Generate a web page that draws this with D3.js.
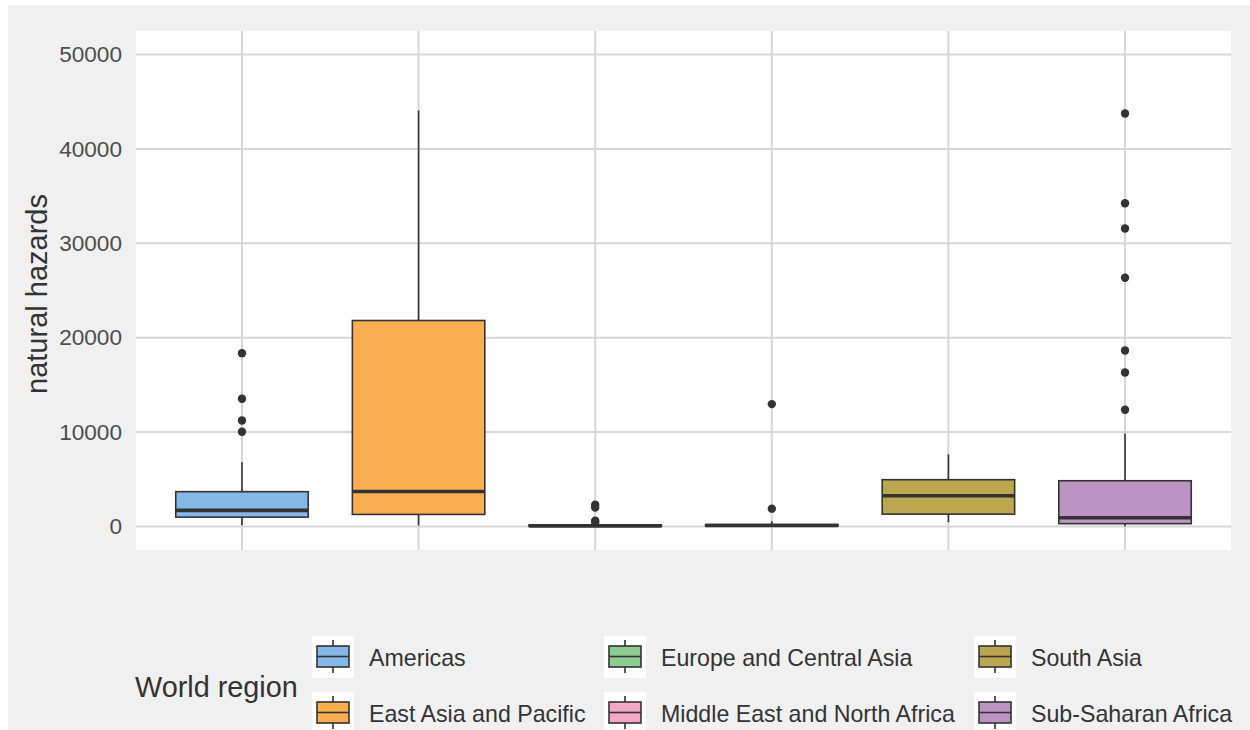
<!DOCTYPE html>
<html><head><meta charset="utf-8">
<script src="https://cdn.jsdelivr.net/npm/d3@7"></script>
<style>body{margin:0;background:#fff;}svg{display:block;font-family:"Liberation Sans",Arial,sans-serif;}</style>
</head><body><svg id="c" width="1250" height="730"></svg>
<script>
const regions = ["Americas","East Asia and Pacific","Europe and Central Asia","Middle East and North Africa","South Asia","Sub-Saharan Africa"];
const colors = ["#85b8e6","#f9ae52","#8dcb90","#f5a8c6","#bda650","#bb94c4"];
const whiskerLow = [130, 100, 0, 10, 450, 20];
const q1 = [985, 1270, 20, 30, 1300, 290];
const median = [1700, 3700, 60, 100, 3250, 920];
const q3 = [3680, 21820, 150, 200, 4950, 4840];
const whiskerHigh = [6810, 44070, 350, 550, 7630, 9850];
const outliers = [
  [18360, 13530, 11230, 10030],
  [],
  [2300, 2000, 600, 450],
  [12960, 1880],
  [],
  [43750, 34250, 31570, 26350, 18640, 16310, 12360]
];
const yTicks = [0, 10000, 20000, 30000, 40000, 50000];

const svg = d3.select("#c");
svg.append("rect").attr("x",8).attr("y",5).attr("width",1242).attr("height",725).attr("fill","#f0f0f0");

const P = {l:136, r:1231, t:31, b:550};
svg.append("rect").attr("x",P.l).attr("y",P.t).attr("width",P.r-P.l).attr("height",P.b-P.t).attr("fill","#fff");

const x = d3.scalePoint().domain(regions).range([P.l, P.r]).padding(0.6);
const step = x.step();
const bw = step*0.75;
const y = d3.scaleLinear().domain([-2500, 52500]).range([P.b, P.t]);

const grid = svg.append("g");
grid.selectAll("line.h").data(yTicks).join("line")
  .attr("x1",P.l).attr("x2",P.r).attr("y1",d=>y(d)).attr("y2",d=>y(d))
  .attr("stroke","#d6d6d6").attr("stroke-width",2);
grid.selectAll("line.v").data(regions).join("line").attr("class","v")
  .attr("y1",P.t).attr("y2",P.b).attr("x1",d=>x(d)).attr("x2",d=>x(d))
  .attr("stroke","#d6d6d6").attr("stroke-width",2);

// y axis
const yAxis = d3.axisLeft(y).tickValues(yTicks).tickSize(0).tickPadding(14).tickFormat(d3.format("d"));
const ga = svg.append("g").attr("transform",`translate(${P.l},0)`).call(yAxis);
ga.select(".domain").remove();
ga.selectAll("text").attr("font-size",22.6).attr("fill","#4d4d4d").attr("font-family","Liberation Sans, Arial, sans-serif");

svg.append("text").attr("transform",`translate(47,294) rotate(-90)`)
  .attr("text-anchor","middle").attr("font-size",29).attr("fill","#333").text("natural hazards");

// boxes
const idx = d3.range(regions.length);
const g = svg.append("g");
idx.forEach(i=>{
  const cx = x(regions[i]);
  const gg = g.append("g");
  gg.append("line").attr("x1",cx).attr("x2",cx).attr("y1",y(q3[i])).attr("y2",y(whiskerHigh[i])).attr("stroke","#333").attr("stroke-width",1.6);
  gg.append("line").attr("x1",cx).attr("x2",cx).attr("y1",y(q1[i])).attr("y2",y(whiskerLow[i])).attr("stroke","#333").attr("stroke-width",1.6);
  gg.append("rect").attr("x",cx-bw/2).attr("width",bw).attr("y",y(q3[i])).attr("height",Math.max(0.5,y(q1[i])-y(q3[i])))
    .attr("fill",colors[i]).attr("stroke","#333").attr("stroke-width",1.6);
  gg.append("line").attr("x1",cx-bw/2).attr("x2",cx+bw/2).attr("y1",y(median[i])).attr("y2",y(median[i])).attr("stroke","#333").attr("stroke-width",3.6);
  gg.selectAll("circle").data(outliers[i]).join("circle").attr("cx",cx).attr("cy",d=>y(d)).attr("r",4.2).attr("fill","#333");
});

// legend
svg.append("text").attr("x",135).attr("y",697).attr("font-size",28.8).attr("fill","#333").text("World region");
const colX = [312, 604, 974];
const rowY = [636, 692];
idx.forEach(i=>{
  const col = Math.floor(i/2), row = i%2;
  const kx = colX[col], ky = rowY[row];
  const lg = svg.append("g").attr("transform",`translate(${kx},${ky})`);
  lg.append("rect").attr("width",42).attr("height",42).attr("fill","#fff");
  lg.append("line").attr("x1",21).attr("x2",21).attr("y1",4).attr("y2",37).attr("stroke","#333").attr("stroke-width",1.6);
  lg.append("rect").attr("x",5).attr("y",10).attr("width",32).attr("height",21).attr("fill",colors[i]).attr("stroke","#333").attr("stroke-width",1.6);
  lg.append("line").attr("x1",5).attr("x2",37).attr("y1",20.5).attr("y2",20.5).attr("stroke","#333").attr("stroke-width",1.6);
  svg.append("text").attr("x",kx+57).attr("y",ky+30).attr("font-size",23.2).attr("fill","#333").text(regions[i]);
});
</script></body></html>
